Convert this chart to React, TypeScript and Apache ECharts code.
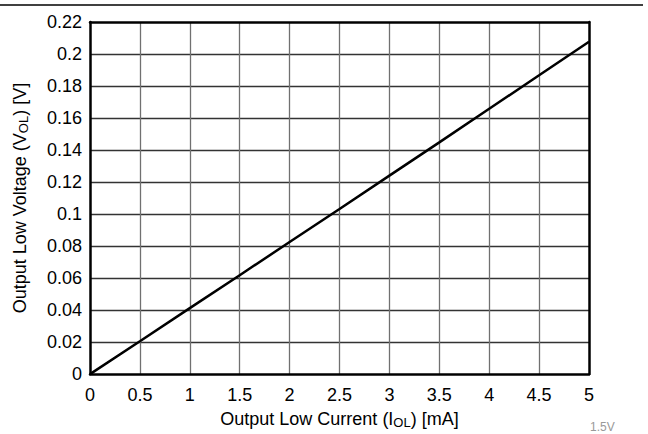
import React, { useEffect, useRef } from "react";
import * as echarts from "echarts";

const currentMA = [0, 0.5, 1, 1.5, 2, 2.5, 3, 3.5, 4, 4.5, 5];
const voltageV = [0, 0.0205, 0.0412, 0.0618, 0.0825, 0.1032, 0.124, 0.1448, 0.1658, 0.1867, 0.2077];
const xName = "Output Low Current (I{sub|OL}) [mA]";
const yName = "Output Low Voltage (V{sub|OL}) [V]";
const noteText = "1.5V";

const FONT = "'Liberation Sans', Arial, Helvetica, sans-serif";

export default function App() {
  const ref = useRef<HTMLDivElement>(null);
  useEffect(() => {
    document.body.style.margin = "0";
    const chart = echarts.init(ref.current!, null, { renderer: "svg" });
    const rich = {
      sub: { fontSize: 13, lineHeight: 8, verticalAlign: "bottom", fontFamily: FONT, color: "#000" },
    };
    const nameStyle = { fontSize: 18, fontFamily: FONT, color: "#000", lineHeight: 20, rich };
    const borderLine = { show: true, onZero: false, lineStyle: { color: "#000", width: 2.5 } };
    chart.setOption({
      animation: false,
      backgroundColor: "#fff",
      grid: { left: 90, right: 59, top: 22, bottom: 58, containLabel: false },
      xAxis: [
        {
          type: "value",
          min: 0,
          max: 5,
          interval: 0.5,
          position: "bottom",
          name: xName,
          nameLocation: "middle",
          nameGap: 29,
          nameTextStyle: nameStyle,
          axisLine: borderLine,
          axisTick: { show: false },
          axisLabel: { margin: 12, fontSize: 18, fontFamily: FONT, color: "#000" },
          splitLine: { show: true, showMinLine: false, showMaxLine: false, lineStyle: { color: "#707070", width: 1.3 } },
        },
        {
          type: "value",
          min: 0,
          max: 5,
          position: "top",
          z: 10,
          axisLine: borderLine,
          axisTick: { show: false },
          axisLabel: { show: false },
          splitLine: { show: false },
        },
      ],
      yAxis: [
        {
          type: "value",
          min: 0,
          max: 0.22,
          interval: 0.02,
          position: "left",
          name: yName,
          nameLocation: "middle",
          nameGap: 60,
          nameTextStyle: nameStyle,
          axisLine: borderLine,
          axisTick: { show: false },
          axisLabel: { margin: 8, fontSize: 18, fontFamily: FONT, color: "#000" },
          splitLine: { show: true, showMinLine: false, showMaxLine: false, lineStyle: { color: "#333", width: 1.3 } },
        },
        {
          type: "value",
          min: 0,
          max: 0.22,
          position: "right",
          z: 10,
          axisLine: borderLine,
          axisTick: { show: false },
          axisLabel: { show: false },
          splitLine: { show: false },
        },
      ],
      series: [
        {
          type: "line",
          data: currentMA.map((x, i) => [x, voltageV[i]]),
          showSymbol: false,
          symbol: "none",
          lineStyle: { color: "#000", width: 2.5 },
          z: 5,
        },
      ],
      graphic: [
        {
          type: "line",
          shape: { x1: 0, y1: 5, x2: 643, y2: 5 },
          style: { stroke: "#000", lineWidth: 1.5 },
        },
        {
          type: "text",
          x: 590,
          y: 421,
          style: { text: noteText, fontSize: 12, fontFamily: FONT, fill: "#999" },
        },
      ],
    });
    return () => chart.dispose();
  }, []);
  return <div ref={ref} style={{ width: 648, height: 434 }} />;
}
